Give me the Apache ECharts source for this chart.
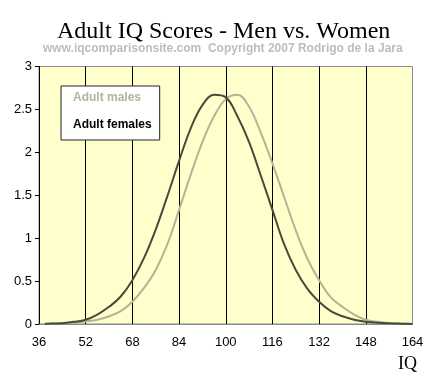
<!DOCTYPE html>
<html>
<head>
<meta charset="utf-8">
<script src="https://cdn.jsdelivr.net/npm/echarts@6/dist/echarts.min.js"></script>
<style>html,body{margin:0;padding:0;background:#fff;}#c{width:427px;height:385px;}</style>
</head>
<body>
<div id="c"></div>
<script>
const iq = [38,40,44,48,52,56,60,64,68,72,76,80,84,88,92,96,100,104,108,112,116,120,124,128,132,136,140,144,148,152,156,160,164];
const females = [0.002,0.005,0.01,0.025,0.05,0.11,0.20,0.32,0.51,0.77,1.10,1.49,1.90,2.28,2.55,2.67,2.64,2.42,2.12,1.73,1.33,0.93,0.63,0.41,0.26,0.15,0.09,0.05,0.027,0.015,0.008,0.004,0.001];
const males = [0.001,0.004,0.008,0.015,0.03,0.05,0.09,0.15,0.26,0.42,0.63,0.93,1.33,1.74,2.12,2.42,2.62,2.67,2.53,2.23,1.87,1.48,1.09,0.76,0.51,0.31,0.20,0.11,0.05,0.025,0.01,0.005,0.002];
const xTicks = [36,52,68,84,100,116,132,148,164];
const yTicks = [0,0.5,1,1.5,2,2.5,3];
const seriesNames = ['Adult males','Adult females'];

const x0 = xTicks[0];
const pairs = vals => iq.map((v,i)=>[v - x0, vals[i]]);

const chart = echarts.init(document.getElementById('c'), null, {renderer:'canvas'});
chart.setOption({
  animation:false,
  backgroundColor:'#ffffff',
  title:[
    {text:'Adult IQ Scores - Men vs. Women', left:52, top:15,
     textStyle:{fontFamily:'Liberation Serif', fontWeight:'normal', fontSize:24, color:'#000'}},
    {text:'www.iqcomparisonsite.com  Copyright 2007 Rodrigo de la Jara', left:38, top:38,
     textStyle:{fontFamily:'Liberation Sans', fontWeight:'bold', fontSize:12, color:'#bdbdbd'}},
    {text:'IQ', left:393, top:350,
     textStyle:{fontFamily:'Liberation Serif', fontWeight:'normal', fontSize:18, color:'#000'}}
  ],
  legend:{
    orient:'vertical', left:61, top:86,
    backgroundColor:'#ffffff', borderColor:'#222', borderWidth:1,
    padding:[6,8,9,7], itemGap:15, itemWidth:0, itemHeight:0,
    selectedMode:false,
    textStyle:{fontFamily:'Liberation Sans', fontWeight:'bold', fontSize:12, padding:0},
    data:[
      {name:seriesNames[0], icon:'none', textStyle:{color:'#b3b396'}},
      {name:seriesNames[1], icon:'none', textStyle:{color:'#000'}}
    ]
  },
  grid:{left:39, right:14.5, top:66.5, bottom:61, show:true, backgroundColor:'#ffffcc', borderColor:'#8a8a8a', borderWidth:1},
  xAxis:{
    type:'value', min:0, max:xTicks[xTicks.length-1]-x0, interval:16,
    axisLine:{show:true, lineStyle:{color:'#8a8a8a', width:1}},
    axisTick:{show:false},
    axisLabel:{margin:12, color:'#000', fontFamily:'Liberation Sans', fontSize:13,
      formatter:v=>String(v + x0)},
    splitLine:{show:true, showMinLine:false, showMaxLine:false, lineStyle:{color:'#000', width:1}}
  },
  yAxis:{
    type:'value', min:yTicks[0], max:yTicks[yTicks.length-1], interval:0.5,
    axisLine:{show:true, lineStyle:{color:'#000', width:1}},
    axisTick:{show:true, length:4, lineStyle:{color:'#000'}},
    axisLabel:{margin:7, color:'#000', fontFamily:'Liberation Sans', fontSize:13},
    splitLine:{show:false}
  },
  series:[
    {name:seriesNames[0], type:'line', data:pairs(males), smooth:0.4, showSymbol:false,
     lineStyle:{color:'#b3b396', width:2}, itemStyle:{color:'#b3b396'}, z:2},
    {name:seriesNames[1], type:'line', data:pairs(females), smooth:0.4, showSymbol:false,
     lineStyle:{color:'#4a4a3c', width:2}, itemStyle:{color:'#4a4a3c'}, z:3}
  ]
});
</script>
</body>
</html>
